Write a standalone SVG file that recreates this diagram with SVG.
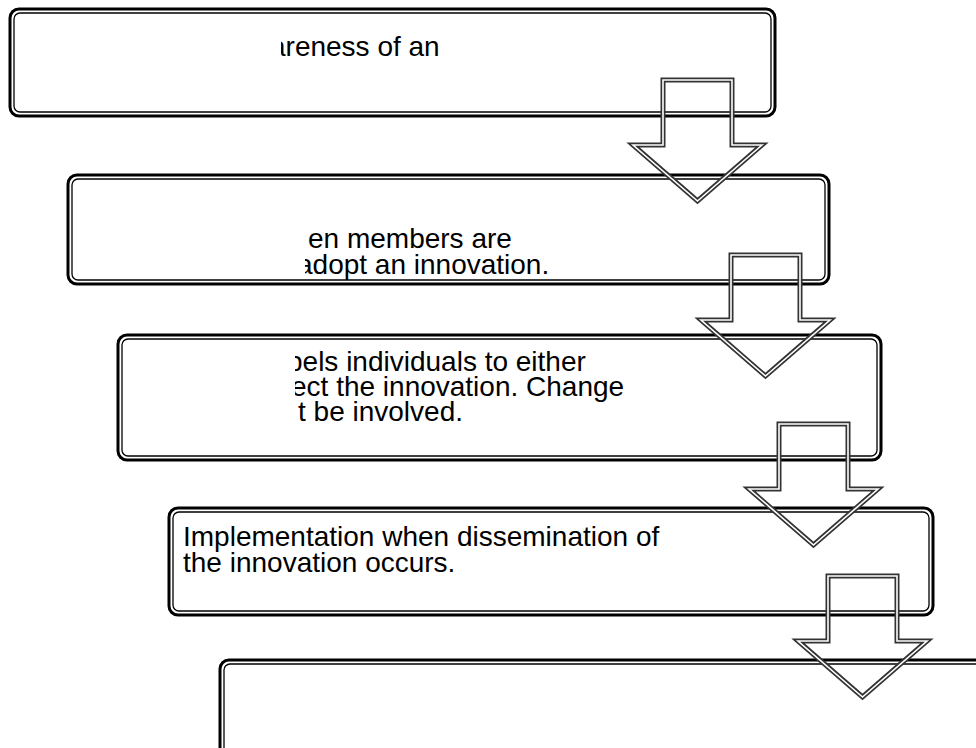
<svg xmlns="http://www.w3.org/2000/svg" width="976" height="748" viewBox="0 0 976 748">
<defs>
<style>
.bo{fill:none;stroke:#000;stroke-width:3}
.bi{fill:none;stroke:#000;stroke-width:1.3}
.ao{fill:none;stroke:#333;stroke-width:5;stroke-linejoin:miter}
.ai{fill:none;stroke:#fff;stroke-width:1.6;stroke-linejoin:miter}
.t{font-family:"Liberation Sans",Arial,sans-serif;font-size:28px;fill:#000}
</style>
<clipPath id="c1"><rect x="281" y="0" width="600" height="130"/></clipPath>
<clipPath id="c2"><rect x="305" y="170" width="600" height="120"/></clipPath>
<clipPath id="c3"><rect x="295" y="330" width="600" height="130"/></clipPath>
<path id="arr" d="M0,0 H69 V65 H99 L34.5,121 L-30,65 H0 Z"/>
</defs>
<rect width="976" height="748" fill="#fff"/>
<g id="box1">
<rect class="bo" x="10" y="9" width="765" height="107" rx="9"/>
<rect class="bi" x="14" y="13" width="757" height="99" rx="6"/>
<text class="t" clip-path="url(#c1)" x="270" y="56">areness of an</text>
</g>
<g id="box2">
<rect class="bo" x="68" y="175" width="761" height="109" rx="9"/>
<rect class="bi" x="72" y="179" width="753" height="101" rx="6"/>
<g clip-path="url(#c2)">
<text class="t" x="308" y="248">en members are</text>
<text class="t" x="297" y="274">adopt an innovation.</text>
</g>
</g>
<g id="box3">
<rect class="bo" x="118" y="335" width="763" height="125" rx="9"/>
<rect class="bi" x="122" y="339" width="755" height="117" rx="6"/>
<g clip-path="url(#c3)">
<text class="t" x="287" y="371">pels individuals to either</text>
<text class="t" x="291" y="396">ect the innovation. Change</text>
<text class="t" x="298" y="421">t be involved.</text>
</g>
</g>
<g id="box4">
<rect class="bo" x="169" y="508" width="764" height="107" rx="9"/>
<rect class="bi" x="173" y="512" width="756" height="99" rx="6"/>
<text class="t" x="183" y="546">Implementation when dissemination of</text>
<text class="t" x="183" y="572">the innovation occurs.</text>
</g>
<g id="box5">
<rect class="bo" x="220" y="660" width="800" height="120" rx="9"/>
<rect class="bi" x="224" y="664" width="792" height="112" rx="6"/>
</g>
<g id="connectors">
<use href="#arr" class="ao" x="663" y="80"/>
<use href="#arr" class="ai" x="663" y="80"/>
<use href="#arr" class="ao" x="731" y="255"/>
<use href="#arr" class="ai" x="731" y="255"/>
<use href="#arr" class="ao" x="779" y="424"/>
<use href="#arr" class="ai" x="779" y="424"/>
<use href="#arr" class="ao" x="828" y="576"/>
<use href="#arr" class="ai" x="828" y="576"/>
</g>
</svg>
